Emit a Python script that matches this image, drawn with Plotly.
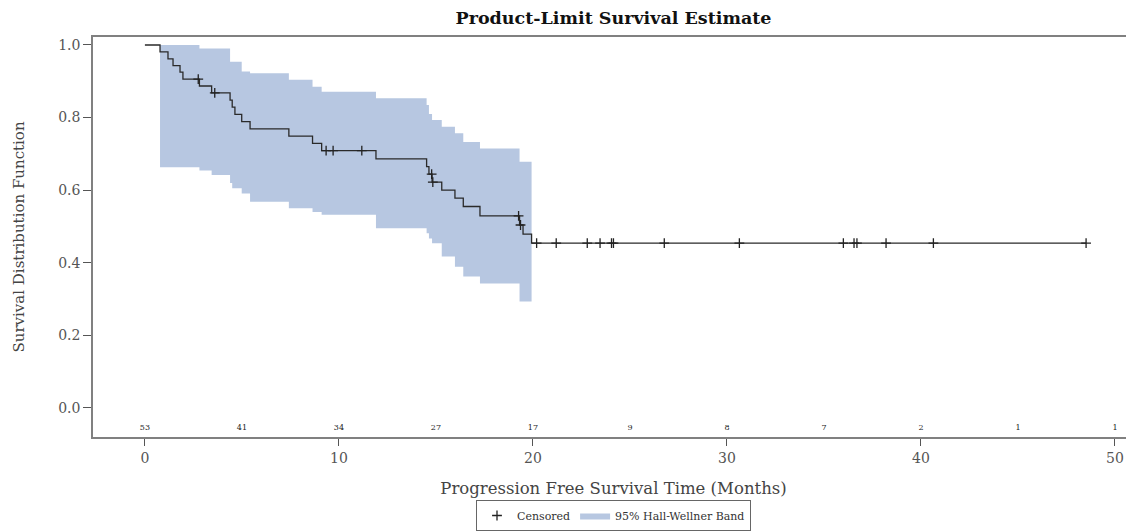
import numpy as np
import plotly.graph_objects as go

# ---- data ----
surv_times = [0, 0.78, 1.19, 1.45, 1.81, 1.96, 2.81, 3.44, 4.39, 4.50, 4.64, 4.99, 5.42,
              7.42, 8.64, 9.11, 11.91, 14.52, 14.64, 14.80, 15.30, 15.98, 16.41, 17.27,
              19.31, 19.49, 19.93]
surv_vals = [1.0, 0.981, 0.962, 0.943, 0.925, 0.906, 0.887, 0.868, 0.848, 0.829, 0.809,
             0.789, 0.769, 0.749, 0.729, 0.709, 0.686, 0.665, 0.644, 0.622, 0.600, 0.578,
             0.555, 0.529, 0.504, 0.479, 0.454]

band_times = [0.78, 1.19, 1.45, 1.81, 1.96, 2.81, 3.44, 4.39, 4.50, 4.64, 4.99, 5.42,
              7.42, 8.64, 9.11, 11.91, 14.52, 14.64, 14.80, 15.30, 15.98, 16.41, 17.27,
              19.31, 19.49, 19.93]
band_upper = [1.0, 1.0, 1.0, 1.0, 1.0, 0.99, 0.99, 0.954, 0.954, 0.954, 0.927, 0.922,
              0.904, 0.885, 0.871, 0.853, 0.835, 0.81, 0.793, 0.775, 0.757, 0.733, 0.715,
              0.678, 0.678, 0.678]
band_lower = [0.663, 0.663, 0.663, 0.663, 0.663, 0.654, 0.642, 0.62, 0.605, 0.605, 0.591,
              0.568, 0.55, 0.54, 0.532, 0.495, 0.481, 0.467, 0.454, 0.417, 0.389, 0.362,
              0.343, 0.293, 0.293, 0.293]

censor_times = [2.75, 3.60, 9.34, 9.70, 11.18, 14.78, 14.84, 19.26, 19.36, 20.19, 21.2,
                22.8, 23.46, 24.05, 24.15, 26.77, 30.64, 36.0, 36.55, 36.7, 38.2, 40.64,
                48.51]

risk_times = [0, 5, 10, 15, 20, 25, 30, 35, 40, 45, 50]
risk_counts = [53, 41, 34, 27, 17, 9, 8, 7, 2, 1, 1]

x_ticks = [0, 10, 20, 30, 40, 50]
y_ticks = [0.0, 0.2, 0.4, 0.6, 0.8, 1.0]

# ---- derived ----
st = np.array(surv_times)
sv = np.array(surv_vals)
idx = np.searchsorted(st, np.array(censor_times), side="right") - 1
censor_vals = sv[idx]

curve_x = list(surv_times) + [max(censor_times)]
curve_y = list(surv_vals) + [surv_vals[-1]]

FONT = "DejaVu Serif"
BAND = "#B7C7E1"
CROSS = dict(symbol="cross-thin", size=7, line=dict(color="#222222", width=1.3))

# the page body has an 8px margin, so the figure is sized to fill the rest
W, H = 1126, 523

fig = go.Figure()

# legend-only entry for censored marks (so it comes first in the legend)
fig.add_trace(go.Scatter(x=[None], y=[None], mode="markers", name="Censored",
                         marker=CROSS, showlegend=True))

fig.add_trace(go.Scatter(
    x=band_times, y=band_upper, mode="lines", line=dict(width=0, shape="hv", color=BAND),
    showlegend=False, hoverinfo="skip"))
fig.add_trace(go.Scatter(
    x=band_times, y=band_lower, mode="lines", line=dict(width=0, shape="hv", color=BAND),
    fill="tonexty", fillcolor=BAND, name="95% Hall-Wellner Band", showlegend=True))

fig.add_trace(go.Scatter(
    x=curve_x, y=curve_y, mode="lines", line=dict(color="#2a2a2a", width=1.3, shape="hv"),
    showlegend=False))

fig.add_trace(go.Scatter(
    x=censor_times, y=censor_vals, mode="markers", name="Censored",
    marker=CROSS, showlegend=False))

fig.add_trace(go.Scatter(
    x=risk_times, y=[-0.055] * len(risk_times), mode="text",
    text=[str(v) for v in risk_counts], textfont=dict(family=FONT, size=8, color="#222222"),
    showlegend=False, hoverinfo="skip"))

fig.update_layout(
    width=W, height=H,
    margin=dict(l=85, r=0, t=29, b=94, autoexpand=False),
    paper_bgcolor="white", plot_bgcolor="white",
    font=dict(family=FONT, color="#333333"),
    title=dict(text="<b>Product-Limit Survival Estimate</b>", x=0.5, xref="paper",
               y=1 - 10 / H, yref="container", xanchor="center", yanchor="middle",
               font=dict(family=FONT, size=17.5, color="#111111")),
    xaxis=dict(range=[-2.675, 50.98], tickvals=x_ticks, ticks="outside", ticklen=7,
               tickcolor="#555555", showline=True, mirror=True, linecolor="#808080",
               linewidth=1.6, showgrid=False, zeroline=False, automargin=False,
               tickfont=dict(family=FONT, size=14, color="#555555"),
               title=dict(text="Progression Free Survival Time (Months)",
                          font=dict(family=FONT, size=16.5, color="#444444"), standoff=18)),
    yaxis=dict(range=[-0.08, 1.022], tickvals=y_ticks, tickformat=".1f", ticks="outside",
               ticklen=8, tickcolor="#555555", showline=True, mirror=False,
               linecolor="#808080", linewidth=1.6, showgrid=False, zeroline=False,
               automargin=False,
               tickfont=dict(family=FONT, size=14, color="#555555"),
               title=dict(text="Survival Distribution Function",
                          font=dict(family=FONT, size=15, color="#444444"), standoff=30)),
    legend=dict(orientation="h", x=0.5, xanchor="center", y=-0.235, yanchor="bottom",
                traceorder="normal",
                bordercolor="#666666", borderwidth=1, bgcolor="white",
                font=dict(family=FONT, size=11, color="#333333"),
                itemwidth=30, tracegroupgap=0),
)

fig.write_html("out.html")
